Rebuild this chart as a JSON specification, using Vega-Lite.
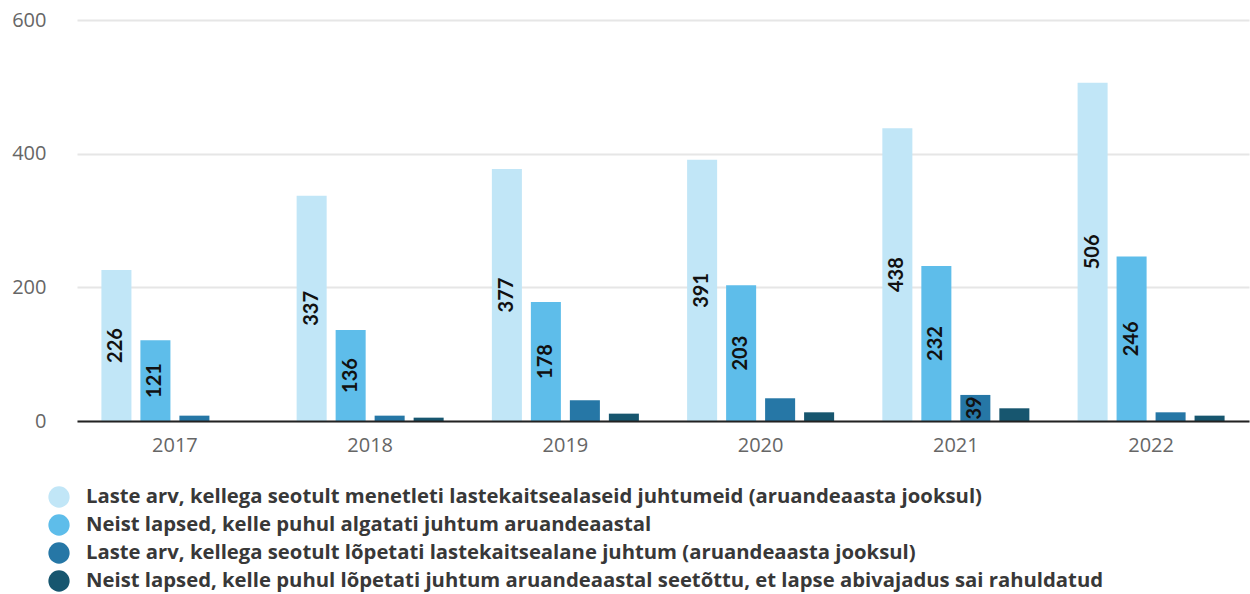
{
  "$schema": "https://vega.github.io/schema/vega-lite/v6.json",
  "autosize": {"type": "none"},
  "width": 1172,
  "height": 401,
  "padding": {"left": 77, "top": 20, "right": 1, "bottom": 173},
  "config": {"view": {"stroke": null}, "font": "Open Sans"},
  "data": {
    "values": [
      {"year": "2017", "series": "Laste arv, kellega seotult menetleti lastekaitsealaseid juhtumeid (aruandeaasta jooksul)", "value": 226},
      {"year": "2018", "series": "Laste arv, kellega seotult menetleti lastekaitsealaseid juhtumeid (aruandeaasta jooksul)", "value": 337},
      {"year": "2019", "series": "Laste arv, kellega seotult menetleti lastekaitsealaseid juhtumeid (aruandeaasta jooksul)", "value": 377},
      {"year": "2020", "series": "Laste arv, kellega seotult menetleti lastekaitsealaseid juhtumeid (aruandeaasta jooksul)", "value": 391},
      {"year": "2021", "series": "Laste arv, kellega seotult menetleti lastekaitsealaseid juhtumeid (aruandeaasta jooksul)", "value": 438},
      {"year": "2022", "series": "Laste arv, kellega seotult menetleti lastekaitsealaseid juhtumeid (aruandeaasta jooksul)", "value": 506},
      {"year": "2017", "series": "Neist lapsed, kelle puhul algatati juhtum aruandeaastal", "value": 121},
      {"year": "2018", "series": "Neist lapsed, kelle puhul algatati juhtum aruandeaastal", "value": 136},
      {"year": "2019", "series": "Neist lapsed, kelle puhul algatati juhtum aruandeaastal", "value": 178},
      {"year": "2020", "series": "Neist lapsed, kelle puhul algatati juhtum aruandeaastal", "value": 203},
      {"year": "2021", "series": "Neist lapsed, kelle puhul algatati juhtum aruandeaastal", "value": 232},
      {"year": "2022", "series": "Neist lapsed, kelle puhul algatati juhtum aruandeaastal", "value": 246},
      {"year": "2017", "series": "Laste arv, kellega seotult lõpetati lastekaitsealane juhtum (aruandeaasta jooksul)", "value": 8},
      {"year": "2018", "series": "Laste arv, kellega seotult lõpetati lastekaitsealane juhtum (aruandeaasta jooksul)", "value": 8},
      {"year": "2019", "series": "Laste arv, kellega seotult lõpetati lastekaitsealane juhtum (aruandeaasta jooksul)", "value": 31},
      {"year": "2020", "series": "Laste arv, kellega seotult lõpetati lastekaitsealane juhtum (aruandeaasta jooksul)", "value": 34},
      {"year": "2021", "series": "Laste arv, kellega seotult lõpetati lastekaitsealane juhtum (aruandeaasta jooksul)", "value": 39},
      {"year": "2022", "series": "Laste arv, kellega seotult lõpetati lastekaitsealane juhtum (aruandeaasta jooksul)", "value": 13},
      {"year": "2017", "series": "Neist lapsed, kelle puhul lõpetati juhtum aruandeaastal seetõttu, et lapse abivajadus sai rahuldatud", "value": 0},
      {"year": "2018", "series": "Neist lapsed, kelle puhul lõpetati juhtum aruandeaastal seetõttu, et lapse abivajadus sai rahuldatud", "value": 5},
      {"year": "2019", "series": "Neist lapsed, kelle puhul lõpetati juhtum aruandeaastal seetõttu, et lapse abivajadus sai rahuldatud", "value": 11},
      {"year": "2020", "series": "Neist lapsed, kelle puhul lõpetati juhtum aruandeaastal seetõttu, et lapse abivajadus sai rahuldatud", "value": 13},
      {"year": "2021", "series": "Neist lapsed, kelle puhul lõpetati juhtum aruandeaastal seetõttu, et lapse abivajadus sai rahuldatud", "value": 19},
      {"year": "2022", "series": "Neist lapsed, kelle puhul lõpetati juhtum aruandeaastal seetõttu, et lapse abivajadus sai rahuldatud", "value": 8}
    ]
  },
  "layer": [
    {
      "mark": {"type": "bar"},
      "encoding": {
        "x": {
          "field": "year", "type": "nominal",
          "scale": {"paddingInner": 0.247, "paddingOuter": 0.125},
          "axis": {"title": null, "ticks": false, "labelAngle": 0, "labelFontSize": 20, "labelColor": "#666666", "labelPadding": 14, "domainColor": "#222222", "domainWidth": 2, "zindex": 1, "labelFont": "Open Sans"}
        },
        "xOffset": {
          "field": "series", "type": "nominal",
          "sort": ["Laste arv, kellega seotult menetleti lastekaitsealaseid juhtumeid (aruandeaasta jooksul)", "Neist lapsed, kelle puhul algatati juhtum aruandeaastal", "Laste arv, kellega seotult lõpetati lastekaitsealane juhtum (aruandeaasta jooksul)", "Neist lapsed, kelle puhul lõpetati juhtum aruandeaastal seetõttu, et lapse abivajadus sai rahuldatud"],
          "scale": {"paddingInner": 0.23, "paddingOuter": 0}
        },
        "y": {
          "field": "value", "type": "quantitative",
          "scale": {"domain": [0, 600], "nice": false},
          "axis": {"title": null, "values": [0, 200, 400, 600], "grid": true, "gridColor": "#e6e6e6", "gridWidth": 2, "domain": false, "ticks": false, "labelPadding": 31, "labelFontSize": 20, "labelColor": "#666666", "labelFont": "Open Sans"}
        },
        "color": {
          "field": "series", "type": "nominal",
          "scale": {
            "domain": ["Laste arv, kellega seotult menetleti lastekaitsealaseid juhtumeid (aruandeaasta jooksul)", "Neist lapsed, kelle puhul algatati juhtum aruandeaastal", "Laste arv, kellega seotult lõpetati lastekaitsealane juhtum (aruandeaasta jooksul)", "Neist lapsed, kelle puhul lõpetati juhtum aruandeaastal seetõttu, et lapse abivajadus sai rahuldatud"],
            "range": ["#c1e6f7", "#5ebdea", "#2677a6", "#17566f"]
          },
          "legend": {"orient": "none", "legendX": -29, "legendY": 466, "title": null, "direction": "vertical", "symbolType": "circle", "symbolSize": 452, "symbolStrokeWidth": 0, "symbolOpacity": 1, "labelFont": "Open Sans", "labelFontSize": 20.3, "labelFontWeight": "bold", "labelColor": "#383838", "labelOffset": 16, "rowPadding": 6, "labelLimit": 1200}
        }
      }
    },
    {
      "transform": [{"filter": "datum.value >= 36"}],
      "mark": {"type": "text", "angle": 270, "align": "center", "baseline": "middle", "font": "Lato", "fontSize": 20, "fontWeight": "bold", "color": "#111111"},
      "encoding": {
        "x": {"field": "year", "type": "nominal"},
        "xOffset": {
          "field": "series", "type": "nominal",
          "sort": ["Laste arv, kellega seotult menetleti lastekaitsealaseid juhtumeid (aruandeaasta jooksul)", "Neist lapsed, kelle puhul algatati juhtum aruandeaastal", "Laste arv, kellega seotult lõpetati lastekaitsealane juhtum (aruandeaasta jooksul)", "Neist lapsed, kelle puhul lõpetati juhtum aruandeaastal seetõttu, et lapse abivajadus sai rahuldatud"]
        },
        "y": {"field": "value", "type": "quantitative", "scale": {"domain": [0, 1200], "nice": false}, "axis": null},
        "text": {"field": "value", "type": "quantitative"}
      }
    }
  ],
  "resolve": {"scale": {"y": "independent"}}
}
